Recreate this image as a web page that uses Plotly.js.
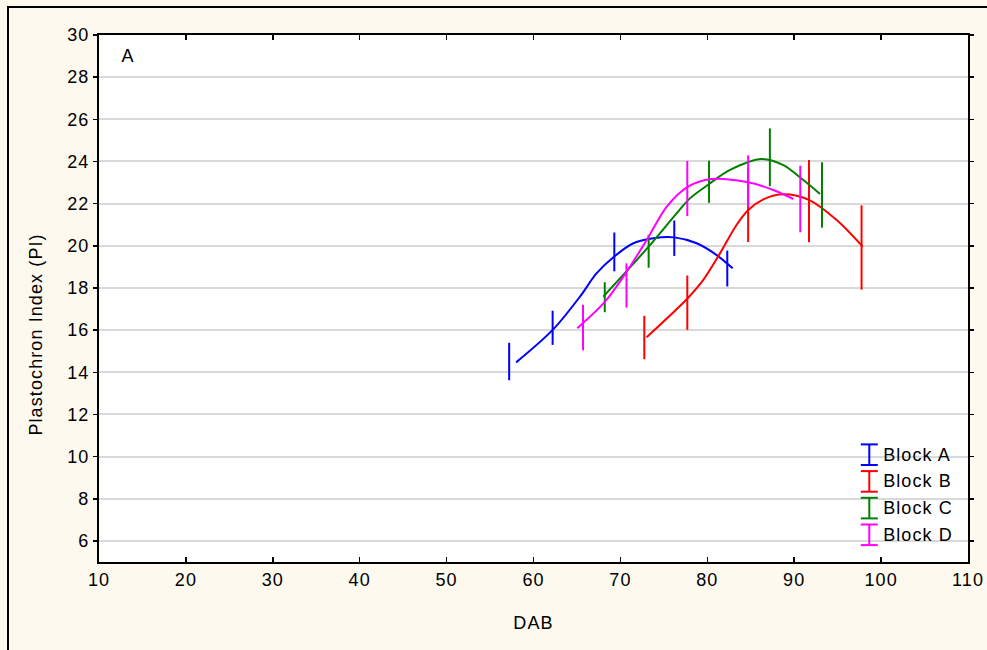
<!DOCTYPE html>
<html>
<head>
<meta charset="utf-8">
<script src="https://cdn.plot.ly/plotly-3.0.1.min.js"></script>
<style>
  html, body { margin: 0; padding: 0; background: #fdf9ef; }
  #wrap { position: relative; width: 987px; height: 650px; overflow: hidden; }
  #chart { position: absolute; left: 0; top: 0; width: 987px; height: 650px; }
  #chart text { letter-spacing: 1.1px; }
  #frame { position: absolute; left: 7px; top: 6px; width: 1000px; height: 700px;
           border-left: 2px solid #000; border-top: 2px solid #000; pointer-events: none; }
</style>
</head>
<body>
<div id="wrap">
  <div id="chart"></div>
  <div id="frame"></div>
</div>
<script>
// Block means (DAB vs Plastochron Index) with standard errors
const seriesNames = ['Block A', 'Block B', 'Block C', 'Block D'];
const seriesColors = ['#0000ff', '#ff0000', '#008000', '#ff00ff'];

const dabA = [57.2, 62.2, 69.3, 76.2, 82.3];
const piA  = [14.51, 16.11, 19.71, 20.36, 18.92];
const seA  = [0.89, 0.81, 0.92, 0.84, 0.85];

const dabB = [72.75, 77.7, 84.7, 91.7, 97.75];
const piB  = [15.65, 17.3, 21.94, 22.12, 19.92];
const seB  = [1.03, 1.29, 1.76, 1.95, 2.0];

const dabC = [68.2, 73.25, 80.2, 87.2, 93.2];
const piC  = [17.56, 19.74, 23.04, 24.2, 22.41];
const seC  = [0.71, 0.78, 1.0, 1.37, 1.55];

const dabD = [65.7, 70.7, 77.7, 84.7, 90.7];
const piD  = [16.12, 18.12, 22.72, 23.07, 22.22];
const seD  = [1.08, 1.05, 1.31, 1.22, 1.58];

// Fitted smoothing curves for each block
const fitDabA = [58.0, 62.21, 65.35, 67.27, 69.26, 71.49, 73.79, 76.2, 78.78, 81.08, 82.92];
const fitPiA  = [14.47, 16.01, 17.59, 18.70, 19.48, 20.12, 20.36, 20.40, 20.12, 19.56, 18.93];

const fitDabB = [73.02, 77.74, 79.54, 81.46, 83.38, 84.72, 86.45, 88.75, 91.74, 94.89, 97.88];
const fitPiB  = [15.66, 17.51, 18.38, 19.64, 21.0, 21.7, 22.2, 22.44, 22.17, 21.22, 19.96];

const fitDabC = [68.03, 73.25, 76.47, 78.0, 80.2, 82.61, 86.26, 88.75, 91.05, 92.97];
const fitPiC  = [17.59, 19.96, 21.54, 22.25, 22.93, 23.6, 24.12, 23.83, 23.12, 22.46];

const fitDabD = [65.04, 68.23, 70.72, 73.02, 75.32, 77.74, 80.5, 84.72, 87.6, 89.9];
const fitPiD  = [16.09, 17.35, 18.77, 20.27, 21.85, 22.80, 23.17, 23.01, 22.65, 22.22];

const xTicks = [10, 20, 30, 40, 50, 60, 70, 80, 90, 100, 110];
const yTicks = [6, 8, 10, 12, 14, 16, 18, 20, 22, 24, 26, 28, 30];

const means = [[dabA, piA, seA], [dabB, piB, seB], [dabC, piC, seC], [dabD, piD, seD]];
const fits = [[fitDabA, fitPiA], [fitDabB, fitPiB], [fitDabC, fitPiC], [fitDabD, fitPiD]];

const FONT = 'Liberation Sans, Arial, sans-serif';
const W = 987, H = 650;
const M = { l: 99, r: 19, t: 35, b: 88 };
const plotW = W - M.l - M.r, plotH = H - M.t - M.b;
const px2x = px => (px - M.l) / plotW;
const px2y = py => (H - M.b - py) / plotH;

const traces = [];
seriesNames.forEach((name, i) => {
  traces.push({
    type: 'scatter', mode: 'lines', name: name, showlegend: false,
    x: fits[i][0], y: fits[i][1],
    line: { color: seriesColors[i], width: 2, shape: 'spline', smoothing: 0.9 },
    hoverinfo: 'skip'
  });
  traces.push({
    type: 'scatter', mode: 'markers', name: name, showlegend: false,
    x: means[i][0], y: means[i][1],
    marker: { size: 1, color: 'rgba(0,0,0,0)' },
    error_y: { type: 'data', array: means[i][2], visible: true,
               color: seriesColors[i], thickness: 2, width: 0 }
  });
});

// Legend drawn as I-bar symbols with labels
const shapes = [];
const annotations = [];
const legTop = 454.7, legStep = 26.7, symX = 869.3, capHalf = 8.5, barHalf = 10.3;
seriesNames.forEach((name, i) => {
  const yc = legTop + i * legStep;
  const c = seriesColors[i];
  const ln = { color: c, width: 2 };
  shapes.push({ type: 'line', xref: 'paper', yref: 'paper',
    x0: px2x(symX), x1: px2x(symX), y0: px2y(yc - barHalf), y1: px2y(yc + barHalf), line: ln });
  shapes.push({ type: 'line', xref: 'paper', yref: 'paper',
    x0: px2x(symX - capHalf), x1: px2x(symX + capHalf), y0: px2y(yc - barHalf), y1: px2y(yc - barHalf), line: ln });
  shapes.push({ type: 'line', xref: 'paper', yref: 'paper',
    x0: px2x(symX - capHalf), x1: px2x(symX + capHalf), y0: px2y(yc + barHalf), y1: px2y(yc + barHalf), line: ln });
  annotations.push({ xref: 'paper', yref: 'paper', x: px2x(885), y: px2y(yc),
    xanchor: 'left', yanchor: 'middle', showarrow: false, text: name,
    font: { family: FONT, size: 18, color: '#000' } });
});

annotations.push({ xref: 'paper', yref: 'paper', x: px2x(128), y: px2y(56.5),
  xanchor: 'center', yanchor: 'middle', showarrow: false, text: 'A',
  font: { family: FONT, size: 18, color: '#000' } });
annotations.push({ xref: 'paper', yref: 'paper', x: px2x(35), y: px2y(334.5),
  xanchor: 'center', yanchor: 'middle', showarrow: false, textangle: -90,
  text: 'Plastochron Index (PI)', font: { family: FONT, size: 18, color: '#000' } });
annotations.push({ xref: 'paper', yref: 'paper', x: 0.5, y: px2y(622.7),
  xanchor: 'center', yanchor: 'middle', showarrow: false, text: 'DAB',
  font: { family: FONT, size: 18, color: '#000' } });

const layout = {
  width: W, height: H,
  margin: M,
  paper_bgcolor: '#fdf9ef',
  plot_bgcolor: '#ffffff',
  showlegend: false,
  font: { family: FONT, size: 18, color: '#000' },
  xaxis: {
    range: [10, 110], tickmode: 'array', tickvals: xTicks, ticktext: xTicks.map(String),
    showgrid: false, zeroline: false,
    showline: true, linecolor: '#000', linewidth: 2, mirror: 'ticks',
    ticks: 'inside', ticklen: 5, tickwidth: 1.5, tickcolor: '#000',
    tickfont: { family: FONT, size: 18, color: '#000' }
  },
  yaxis: {
    range: [5, 30], tickmode: 'array', tickvals: yTicks, ticktext: yTicks.map(String),
    showgrid: true, gridcolor: '#d9d9d9', gridwidth: 2, zeroline: false,
    showline: true, linecolor: '#000', linewidth: 2, mirror: 'ticks',
    ticks: 'outside', ticklen: 4, tickwidth: 1.5, tickcolor: '#000',
    tickfont: { family: FONT, size: 18, color: '#000' }
  },
  shapes: shapes,
  annotations: annotations
};

Plotly.newPlot('chart', traces, layout, { displayModeBar: false, staticPlot: true });
</script>
</body>
</html>
